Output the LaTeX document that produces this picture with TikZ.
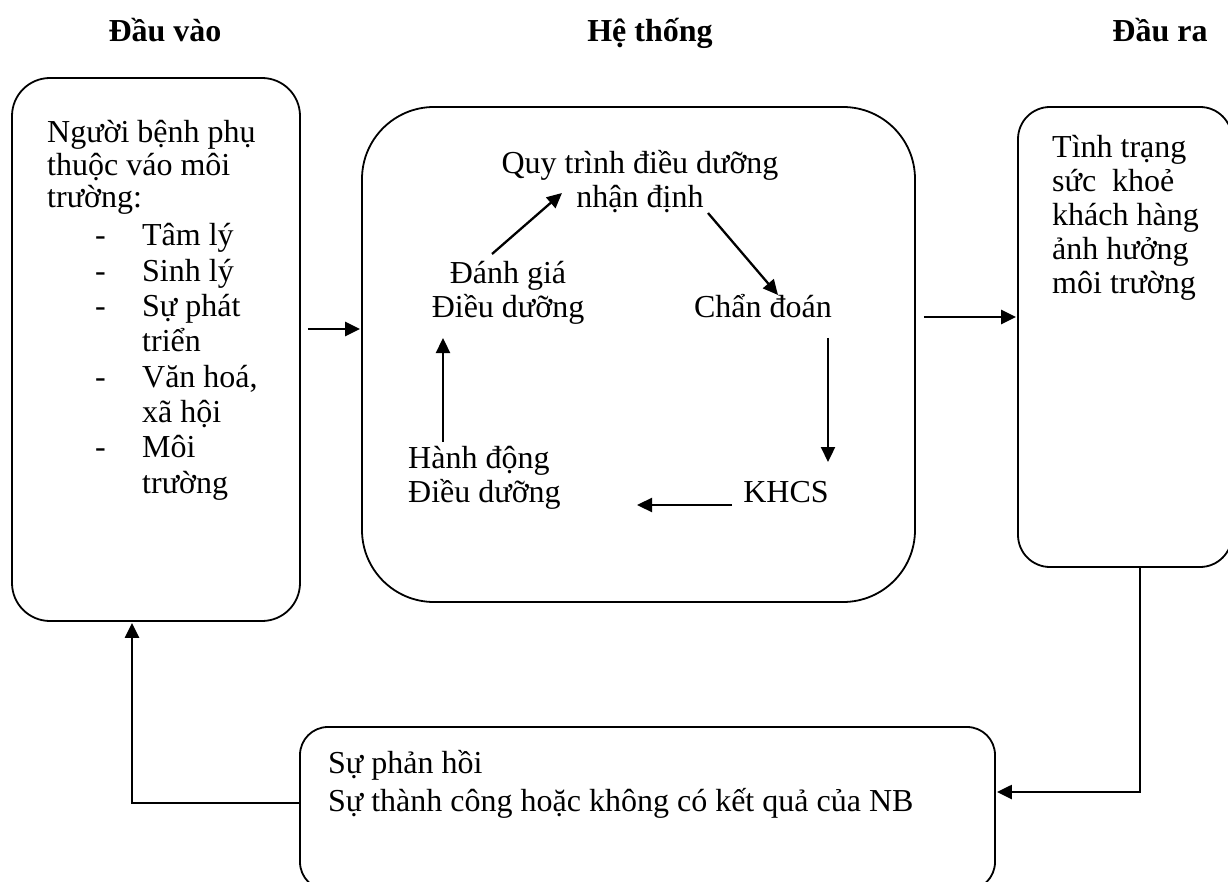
\documentclass[tikz,border=0pt]{standalone}
\usepackage{fontspec}
\setmainfont{Liberation Serif}
\usetikzlibrary{arrows.meta}

\newcommand{\dashitem}[1]{\hspace*{48pt}\makebox[47pt][l]{-}#1}
\newcommand{\moreitem}[1]{\hspace*{95pt}#1}

\begin{document}
\begin{tikzpicture}
[
x=1pt, y=-1pt,
box/.style={rectangle, draw=black, line width=1.8pt, inner sep=0},
txt/.style={inner sep=0, font=\fontsize{32}{34}\selectfont},
heading/.style={inner sep=0, anchor=base, font=\fontsize{32}{34}\selectfont\bfseries},
flow/.style={line width=2.3pt, -{Triangle[length=15pt,width=14pt]}}
]
\useasboundingbox (0,0) rectangle (1228,882);

%Headings
\node[heading]  (hdrin)     at (165,42)     {Đầu vào};
\node[heading]  (hdrsys)    at (650,42)     {Hệ thống};
\node[heading]  (hdrout)    at (1160,42)    {Đầu ra};

%Boxes
\node[box, rounded corners=38pt, minimum width=288pt, minimum height=543pt]    (inbox)   at (156,349.5)  {};
\node[box, rounded corners=72pt, minimum width=553pt, minimum height=495pt]    (sysbox)  at (638.5,354.5) {};
\node[box, rounded corners=32pt, minimum width=214pt, minimum height=460pt]    (outbox)  at (1125,337)   {};
\node[box, rounded corners=28pt, minimum width=695pt, minimum height=163pt]    (fbbox)   at (647.5,808.5) {};

%Texts (base = last line)
\node[txt, anchor=base west, align=left, font=\fontsize{32}{35.3}\selectfont]   (intext)   at (47,493)
  {Người bệnh phụ\\[-2.5pt]thuộc váo môi\\[-2.5pt]trường:\\[2.7pt]\dashitem{Tâm lý}\\\dashitem{Sinh lý}\\\dashitem{Sự phát}\\\moreitem{triển}\\\dashitem{Văn hoá,}\\\moreitem{xã hội}\\\dashitem{Môi}\\\moreitem{trường}};
\node[txt, anchor=base west, align=left]   (outtext)  at (1052,294)
  {Tình trạng\\sức\ \ khoẻ\\khách hàng\\ảnh hưởng\\môi trường};
\node[txt, anchor=base west, align=left, font=\fontsize{32}{38}\selectfont]   (fbtext)   at (328,811)
  {Sự phản hồi\\Sự thành công hoặc không có kết quả của NB};

\node[txt, anchor=base, align=center]      (quytrinh) at (640,208)  {Quy trình điều dưỡng\\nhận định};
\node[txt, anchor=base, align=center]      (chandoan) at (763,318)  {Chẩn đoán};
\node[txt, anchor=base]                    (khcs)     at (786,502)  {KHCS};
\node[txt, anchor=base west, align=left]   (hanhdong) at (408,502)  {Hành động\\Điều dưỡng};
\node[txt, anchor=base, align=center]      (danhgia)  at (508,318)  {Đánh giá\\Điều dưỡng};

%Lines
\draw[flow] ([shift={(7,-20.5)}]inbox.east)   -- ([shift={(-1,-25.5)}]sysbox.west);
\draw[flow] ([shift={(8,-37.5)}]sysbox.east)  -- ([shift={(-1,-20)}]outbox.west);
\draw[flow] ([shift={(15,0)}]outbox.south)    |- ([shift={(1,-16.5)}]fbbox.east);
\draw[flow] ([shift={(0,-5.5)}]fbbox.west)    -| ([shift={(-24,1)}]inbox.south);

\draw[flow] ([shift={(-16,-64)}]danhgia.base)    -- ([shift={(-78,-15)}]quytrinh.base);
\draw[flow] ([shift={(68,5)}]quytrinh.base)      -- ([shift={(15,-23)}]chandoan.base);
\draw[flow] ([shift={(65,20)}]chandoan.base)     -- ([shift={(42,-40)}]khcs.base);
\draw[flow] ([shift={(-54,3)}]khcs.base)         -- ([shift={(229,3)}]hanhdong.base west);
\draw[flow] ([shift={(35,-60)}]hanhdong.base west) -- ([shift={(-65,20)}]danhgia.base);

\end{tikzpicture}
\end{document}
